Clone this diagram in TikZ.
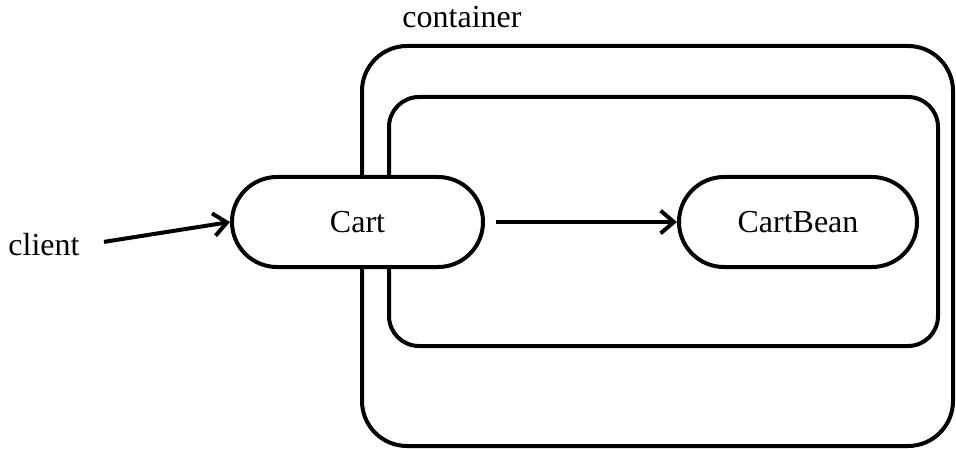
\documentclass[tikz,border=0pt]{standalone}
\usepackage{fontspec}
\setmainfont{Liberation Serif}
\usetikzlibrary{arrows.meta,positioning}
\tikzset{%
  box/.style={draw, line width=3pt, rounded corners=#1, inner sep=0pt},
  bean/.style={draw, fill=white, line width=3pt, rounded corners=33.75pt,
    minimum height=67.5pt, inner sep=0pt},
  link/.style={line width=3pt, -{Straight Barb[length=10pt,width=17pt]}},
  label text/.style={font=\fontsize{24}{29}\selectfont},
}
\begin{document}
\begin{tikzpicture}[x=0.75pt,y=-0.75pt]
  \useasboundingbox (0,0) rectangle (956,449);
  % outer container and its inner box
  \node [box=33.75pt, minimum width=443.25pt, minimum height=300pt]
    (container) at (657.5,246) {};
  \node [box=22.5pt, minimum width=411.75pt, minimum height=186.75pt]
    (inner) at (663.5,221.5) {};
  \node [label text] (containerlabel) at (462,17) {container};
  % the two beans
  \node [bean, label text, minimum width=188.25pt] (cart) at (357.5,222) {Cart};
  \node [bean, label text, minimum width=178.5pt, right=144pt of cart]
    (cartbean) {CartBean};
  \node [label text] (client) at (44,245) {client};
  % calls
  \draw [link, shorten <=15pt] (client.east) -- (cart.west);
  \draw [link, shorten <=8pt] (cart.east) -- (cartbean.west);
\end{tikzpicture}
\end{document}
